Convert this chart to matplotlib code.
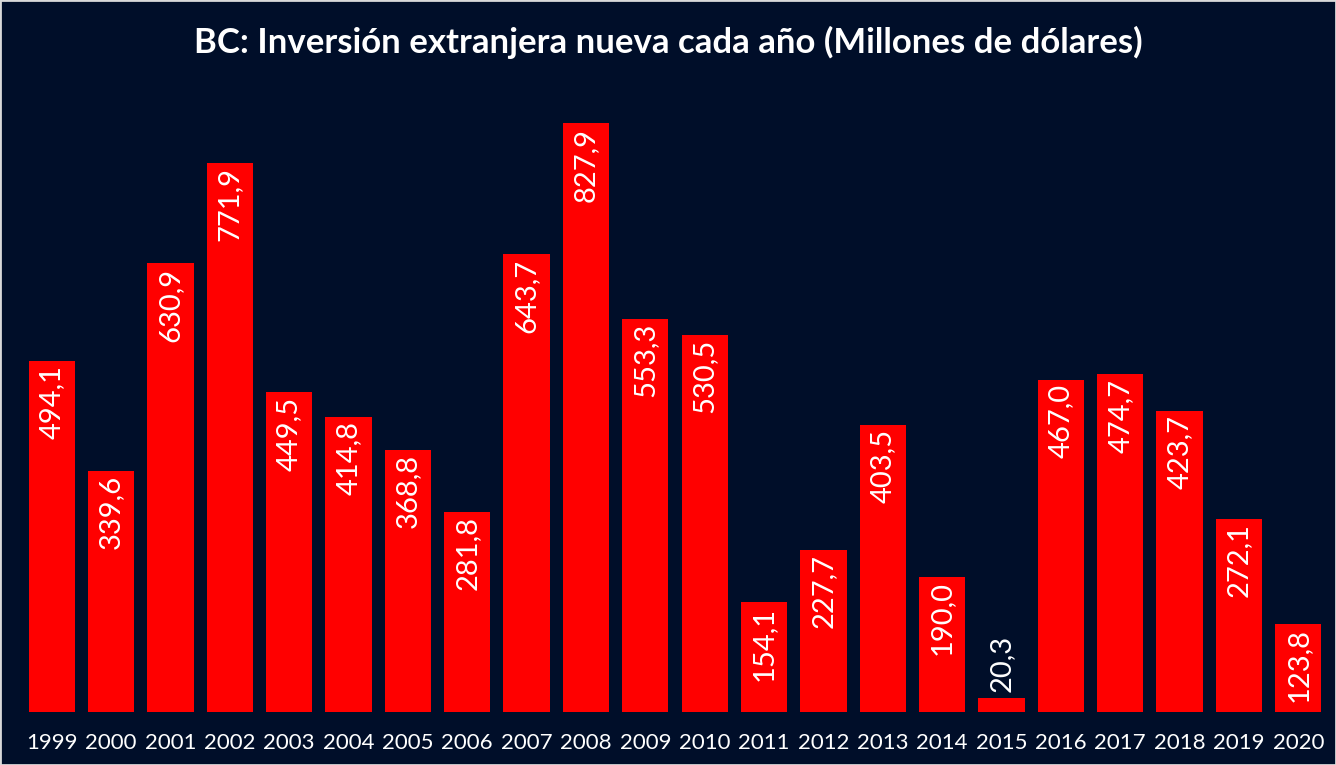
import matplotlib
matplotlib.use("Agg")
import matplotlib.pyplot as plt
from matplotlib.patches import Rectangle

years = [str(y) for y in range(1999, 2021)]
values = [494.1, 339.6, 630.9, 771.9, 449.5, 414.8, 368.8, 281.8, 643.7, 827.9,
          553.3, 530.5, 154.1, 227.7, 403.5, 190.0, 20.3, 467.0, 474.7, 423.7,
          272.1, 123.8]

bg = "#000e29"
plt.rcParams["font.family"] = ["Lato", "DejaVu Sans"]

fig = plt.figure(figsize=(13.36, 7.65), dpi=100, facecolor=bg)
ax = fig.add_axes([22 / 1336, 1 - 712 / 765, 1306 / 1336, (712 - 72) / 765])
ax.set_facecolor(bg)

x = list(range(len(years)))
ax.bar(x, values, width=0.78, color="#ff0000")

for xi, v in zip(x, values):
    txt = f"{v:.1f}".replace(".", ",")
    if v < 80:
        ax.text(xi, v + 8, txt, rotation=90, ha="center", va="bottom",
                color="white", fontsize=21)
    else:
        ax.text(xi, v - 6, txt, rotation=90, ha="center", va="top",
                color="white", fontsize=21)

ax.set_xlim(-0.5, len(years) - 0.5)
ax.set_ylim(0, 900)
ax.set_xticks(x)
ax.set_xticklabels(years, color="white", fontsize=16)
ax.tick_params(axis="x", length=0, pad=15)
ax.set_yticks([])
for s in ax.spines.values():
    s.set_visible(False)

fig.text(0.5, 1 - 42 / 765, "BC: Inversión extranjera nueva cada año (Millones de dólares)",
         ha="center", va="center", color="white", fontsize=25, fontweight="bold")

fig.add_artist(Rectangle((0, 0), 1, 1, transform=fig.transFigure, fill=False,
                         edgecolor="#d9d9d9", linewidth=2))

fig.savefig("out.png", dpi=100, facecolor=bg)
